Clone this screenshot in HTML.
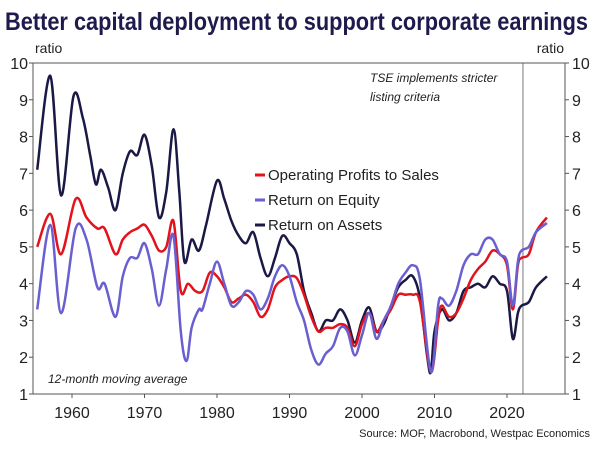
<!DOCTYPE html>
<html><head><meta charset="utf-8"><style>
body{margin:0;background:#fff;}
svg{display:block;font-family:"Liberation Sans",sans-serif;}
</style></head><body>
<svg width="600" height="450" viewBox="0 0 600 450">
<text x="5" y="30" font-size="25" font-weight="bold" fill="#1f1a4d" textLength="583" lengthAdjust="spacingAndGlyphs">Better capital deployment to support corporate earnings</text>
<text x="35" y="53" font-size="14" fill="#222">ratio</text>
<text x="564" y="53" font-size="14" fill="#222" text-anchor="end">ratio</text>
<g id="axes"></g>
<g id="lines"></g>
<rect x="33" y="63" width="532" height="331" fill="none" stroke="#555" stroke-width="1"/>
<text x="370" y="82" font-size="12" font-style="italic" fill="#222">TSE implements stricter</text>
<text x="370" y="101" font-size="12" font-style="italic" fill="#222">listing criteria</text>
<text x="48" y="383" font-size="12" font-style="italic" fill="#222">12-month moving average</text>
<g>
<line x1="255" y1="175" x2="265" y2="175" stroke="#e3121b" stroke-width="3"/>
<text x="268" y="180" font-size="15" fill="#222">Operating Profits to Sales</text>
<line x1="255" y1="200" x2="265" y2="200" stroke="#6a5fd0" stroke-width="3"/>
<text x="268" y="205" font-size="15" fill="#222">Return on Equity</text>
<line x1="255" y1="225" x2="265" y2="225" stroke="#1a1945" stroke-width="3"/>
<text x="268" y="230" font-size="15" fill="#222">Return on Assets</text>
</g>
<text x="590" y="437" font-size="11" fill="#222" text-anchor="end">Source: MOF, Macrobond, Westpac Economics</text>
</svg>
<script>
const yTicks=[1,2,3,4,5,6,7,8,9,10];
const xTicks=[1960,1970,1980,1990,2000,2010,2020];
const eventYear=2022.2;
const roaYears=[1955.2,1957,1958.5,1960.2,1961.5,1962.5,1963.3,1964,1965,1966,1967,1968,1969,1970,1971,1972,1973,1974,1974.8,1975.5,1976.5,1977.5,1978.5,1980,1981,1982,1983,1984,1985,1986,1987,1988,1989,1990,1991,1992,1993,1994,1995,1996,1997,1998,1999,2000,2001,2002,2003,2004,2005,2006,2007,2008,2009,2009.5,2010,2011,2012,2013,2014,2015,2016,2017,2018,2019,2020,2020.8,2021.5,2022,2023,2024,2025.5];
const roaValues=[7.1,9.65,6.4,9.1,8.5,7.5,6.7,7.1,6.6,6.0,7.0,7.6,7.5,8.05,7.2,5.8,6.5,8.2,6.5,4.6,5.2,4.9,5.6,6.8,6.3,5.7,5.3,5.1,5.4,4.7,4.2,4.7,5.3,5.1,4.8,3.8,3.2,2.7,3.0,3.0,3.3,3.0,2.4,3.0,3.35,2.7,2.9,3.4,3.9,4.1,4.2,3.6,2.0,1.6,2.7,3.3,3.0,3.2,3.8,3.9,4.0,3.9,4.2,4.0,3.8,2.5,3.2,3.4,3.5,3.9,4.2];
const opsYears=[1955.2,1957,1958.5,1960.5,1962,1963.5,1964.5,1966,1967,1968,1969,1970,1971,1972,1973,1974,1975,1976,1977,1978,1979,1980,1981,1982,1983,1984,1985,1986,1987,1988,1989,1990,1991,1992,1993,1994,1995,1996,1997,1998,1999,2000,2001,2002,2003,2004,2005,2006,2007,2008,2009.5,2010.5,2011,2012,2013,2014,2015,2016,2017,2018,2019,2020,2020.8,2021.5,2022,2023,2024,2025.5];
const opsValues=[5.0,5.9,4.8,6.3,5.8,5.5,5.5,4.8,5.2,5.4,5.5,5.6,5.3,4.9,5.0,5.7,3.8,4.0,3.8,3.8,4.3,4.2,3.9,3.5,3.6,3.7,3.5,3.1,3.3,3.9,4.1,4.2,4.15,3.7,3.1,2.7,2.8,2.8,2.9,2.8,2.3,2.9,3.2,2.7,3.0,3.3,3.7,3.7,3.7,3.5,1.6,3.0,3.4,3.1,3.2,3.6,4.1,4.4,4.6,4.9,4.8,4.5,3.3,4.5,4.7,4.8,5.4,5.8];
const roeYears=[1955.2,1957,1958.5,1960.5,1962,1963.5,1964.5,1966,1967,1968,1969,1970,1971,1972,1973,1974,1975,1975.8,1976.5,1977.5,1978,1979,1980,1981,1982,1983,1984,1985,1986,1987,1988,1989,1990,1991,1992,1993,1994,1995,1996,1997,1998,1999,2000,2001,2002,2003,2004,2005,2006,2007,2008,2009.5,2010.5,2011,2012,2013,2014,2015,2016,2017,2018,2019,2020,2020.8,2021.5,2022,2023,2024,2025.5];
const roeValues=[3.3,5.6,3.2,5.5,5.2,3.9,4.0,3.1,4.2,4.7,4.7,5.1,4.4,3.4,4.4,5.3,2.7,1.9,2.8,3.3,3.3,4.0,4.6,4.0,3.4,3.5,3.8,3.7,3.3,3.6,4.2,4.5,4.2,3.5,3.0,2.2,1.8,2.1,2.3,2.8,2.7,2.05,2.6,3.2,2.5,3.0,3.4,4.0,4.3,4.5,4.1,1.6,3.4,3.6,3.4,3.8,4.5,4.8,4.8,5.2,5.2,4.8,4.6,3.4,4.6,4.9,5.0,5.4,5.65];

const NS="http://www.w3.org/2000/svg";
const L=33,R=565,T=63,B=394;
const x0=1960,x1=2000,px0=72,px1=362;
function xs(yr){return px0+(yr-x0)*(px1-px0)/(x1-x0);}
function ys(v){return B-(v-1)*(B-T)/9;}
function mk(tag,attrs,parent){const e=document.createElementNS(NS,tag);for(const k in attrs)e.setAttribute(k,attrs[k]);parent.appendChild(e);return e;}
const axes=document.getElementById('axes');
yTicks.forEach(v=>{
  const y=ys(v);
  let t=mk('text',{x:28,y:y+6,'font-size':16,fill:'#222','text-anchor':'end'},axes);t.textContent=v;
  
  
  let t2=mk('text',{x:572,y:y+6,'font-size':16,fill:'#222'},axes);t2.textContent=v;
  
  
  let tk=mk('line',{x1:L-4,x2:L,y1:y,y2:y,stroke:'#555'},axes);
  
  
  let tk2=mk('line',{x1:R,x2:R+4,y1:y,y2:y,stroke:'#555'},axes);
  
  
});
xTicks.forEach(yr=>{
  const x=xs(yr);
  let tk=mk('line',{x1:x,x2:x,y1:B,y2:B+4,stroke:'#555'},axes);
  
  
  let t=mk('text',{x:x,y:B+24,'font-size':16,fill:'#222','text-anchor':'middle'},axes);t.textContent=yr;
  
  
});
let ev=mk('line',{x1:xs(eventYear),x2:xs(eventYear),y1:T,y2:B,stroke:'#777','stroke-width':1},axes);



function smooth(xsA,vs){
  const p=xsA.map((yr,i)=>[xs(yr),ys(vs[i])]);
  let d='M'+p[0][0].toFixed(1)+','+p[0][1].toFixed(1);
  for(let i=0;i<p.length-1;i++){
    const a=p[i-1]||p[i],b=p[i],c=p[i+1],e=p[i+2]||c;
    const c1=[b[0]+(c[0]-a[0])/6,b[1]+(c[1]-a[1])/6];
    const c2=[c[0]-(e[0]-b[0])/6,c[1]-(e[1]-b[1])/6];
    d+=` C${c1[0].toFixed(1)},${c1[1].toFixed(1)} ${c2[0].toFixed(1)},${c2[1].toFixed(1)} ${c[0].toFixed(1)},${c[1].toFixed(1)}`;
  }
  return d;
}
const lines=document.getElementById('lines');
let p1=mk('path',{d:smooth(roaYears,roaValues),fill:'none',stroke:'#1a1945','stroke-width':2.5},lines);


let p2=mk('path',{d:smooth(opsYears,opsValues),fill:'none',stroke:'#e3121b','stroke-width':2.5},lines);


let p3=mk('path',{d:smooth(roeYears,roeValues),fill:'none',stroke:'#6a5fd0','stroke-width':2.5},lines);


</script>
</body></html>
